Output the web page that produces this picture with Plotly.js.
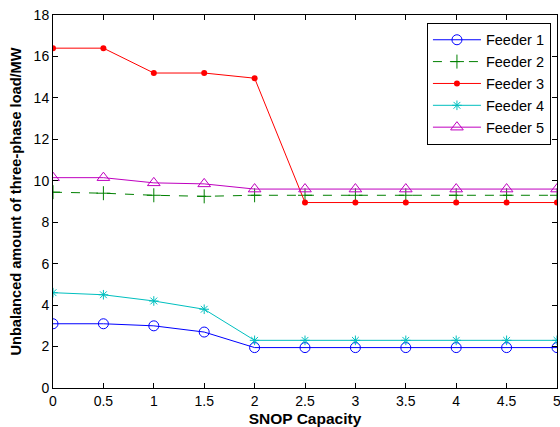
<!DOCTYPE html>
<html>
<head>
<meta charset="utf-8">
<script src="https://cdn.plot.ly/plotly-3.0.1.min.js"></script>
<style>html,body{margin:0;padding:0;background:#fff;}#chart{width:560px;height:427px;}</style>
</head>
<body>
<div id="chart"></div>
<script>
var capacity = [0, 0.5, 1, 1.5, 2, 2.5, 3, 3.5, 4, 4.5, 5];
var feeder1 = [3.1, 3.1, 3.0, 2.7, 1.95, 1.95, 1.95, 1.95, 1.95, 1.95, 1.95];
var feeder2 = [9.45, 9.4, 9.3, 9.25, 9.3, 9.3, 9.3, 9.3, 9.3, 9.3, 9.3];
var feeder3 = [16.4, 16.4, 15.2, 15.2, 14.95, 8.95, 8.95, 8.95, 8.95, 8.95, 8.95];
var feeder4 = [4.6, 4.5, 4.2, 3.8, 2.3, 2.3, 2.3, 2.3, 2.3, 2.3, 2.3];
var feeder5 = [10.15, 10.15, 9.9, 9.85, 9.6, 9.6, 9.6, 9.6, 9.6, 9.6, 9.6];
var seriesNames = ["Feeder 1", "Feeder 2", "Feeder 3", "Feeder 4", "Feeder 5"];
var xTitle = "SNOP Capacity";
var yTitle = "Unbalanced amount of three-phase load/MW";

var traces = [
  {x: capacity, y: feeder1, name: seriesNames[0], mode: "lines+markers",
   line: {color: "#0000ff", width: 1},
   marker: {symbol: "circle-open", size: 10, color: "#0000ff", line: {width: 1}}},
  {x: capacity, y: feeder2, name: seriesNames[1], mode: "lines+markers",
   line: {color: "#008000", width: 1, dash: "dash"},
   marker: {symbol: "cross-thin-open", size: 10, color: "#008000", line: {width: 1, color: "#008000"}}},
  {x: capacity, y: feeder3, name: seriesNames[2], mode: "lines+markers",
   line: {color: "#ff0000", width: 1},
   marker: {symbol: "circle", size: 6, color: "#ff0000"}},
  {x: capacity, y: feeder4, name: seriesNames[3], mode: "lines+markers",
   line: {color: "#00bfbf", width: 1},
   marker: {symbol: "asterisk-open", size: 8, color: "#00bfbf", line: {width: 1, color: "#00bfbf"}}},
  {x: capacity, y: feeder5, name: seriesNames[4], mode: "lines+markers",
   line: {color: "#bf00bf", width: 1},
   marker: {symbol: "triangle-up-open", size: 11, color: "#bf00bf", line: {width: 1}}}
];

var axisCommon = {
  showline: true, linecolor: "#000", linewidth: 1, mirror: "ticks",
  ticks: "inside", ticklen: 5, tickcolor: "#000", showgrid: false, zeroline: false,
  ticklabeloverflow: "allow",
  tickfont: {family: "Liberation Sans, Arial, sans-serif", size: 14, color: "#000"}
};

var layout = {
  width: 560, height: 427,
  margin: {l: 53, r: 3, t: 15, b: 39},
  paper_bgcolor: "#fff", plot_bgcolor: "#fff",
  font: {family: "Liberation Sans, Arial, sans-serif", color: "#000"},
  xaxis: Object.assign({}, axisCommon, {
    range: [0, 5], tickvals: capacity, ticktext: capacity.map(String),
    title: {text: "<b>" + xTitle + "</b>", font: {size: 15.5}, standoff: 12}
  }),
  yaxis: Object.assign({}, axisCommon, {
    range: [0, 18], dtick: 2,
    title: {text: "<b>" + yTitle + "</b>", font: {size: 14.6}, standoff: 8}
  }),
  legend: {
    x: 0.988, y: 0.979, xanchor: "right", yanchor: "top",
    bgcolor: "#fff", bordercolor: "#000", borderwidth: 1,
    font: {size: 14.5, family: "Liberation Sans, Arial, sans-serif"},
    itemwidth: 48,
    tracegroupgap: 0
  },
  showlegend: true
};

Plotly.newPlot("chart", traces, layout, {staticPlot: true, displayModeBar: false});
</script>
</body>
</html>
